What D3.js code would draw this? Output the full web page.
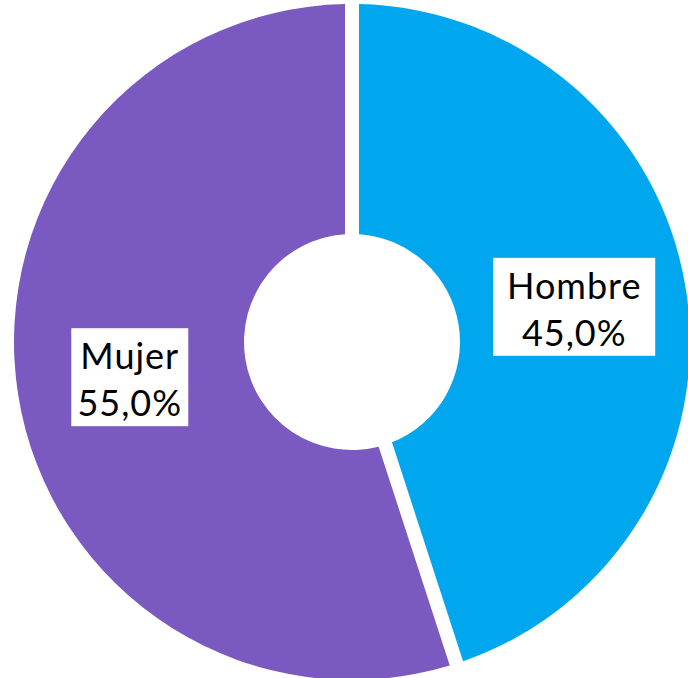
<!DOCTYPE html>
<html>
<head>
<meta charset="utf-8">
<script src="https://cdn.jsdelivr.net/npm/d3@7"></script>
<style>
  html, body { margin: 0; padding: 0; background: #fff; }
  svg { display: block; }
  .lbl { font-family: "Century Gothic", "URW Gothic", Lato, sans-serif; font-size: 36px; font-weight: 400; letter-spacing: 1px; fill: #000; }
</style>
</head>
<body>
<div id="chart"></div>
<script>
var categories = ['Hombre', 'Mujer'];
var values     = [45.0, 55.0];
var colors     = ['#00A6EE', '#7A59C0'];

var width  = 688,
    height = 678,
    cx = 352,
    cy = 342,
    outerR = 338,
    innerR = 108,
    gap = 14;

var data = categories.map(function (c, i) {
  return { name: c, value: values[i], color: colors[i] };
});

var svg = d3.select('#chart').append('svg')
    .attr('width', width)
    .attr('height', height);

var g = svg.append('g')
    .attr('transform', 'translate(' + cx + ',' + cy + ')');

var pie = d3.pie()
    .sort(null)
    .value(function (d) { return d.value; });

var arc = d3.arc()
    .innerRadius(innerR)
    .outerRadius(outerR)
    .padAngle(gap / outerR)
    .padRadius(outerR);

var labelArc = d3.arc()
    .innerRadius(225)
    .outerRadius(225);

var arcs = pie(data);

g.selectAll('path.slice')
    .data(arcs)
    .enter()
    .append('path')
    .attr('class', 'slice')
    .attr('d', arc)
    .attr('fill', function (d) { return d.data.color; });

var fmt = function (v) { return d3.format('.1f')(v).replace('.', ',') + '%'; };

var labels = g.selectAll('g.label')
    .data(arcs)
    .enter()
    .append('g')
    .attr('class', 'label')
    .attr('transform', function (d) {
      var c = labelArc.centroid(d);
      return 'translate(' + c[0] + ',' + c[1] + ')';
    });

labels.each(function (d) {
  var el = d3.select(this);
  var rect = el.append('rect').attr('fill', '#fff');
  var t = el.append('text')
      .attr('class', 'lbl')
      .attr('text-anchor', 'middle');
  t.append('tspan').attr('x', 0).attr('y', -8).text(d.data.name);
  t.append('tspan').attr('x', 0).attr('y', 39).text(fmt(d.data.value));
  // box sized as in the original, padded round the text
  var w = d.data.name === 'Hombre' ? 162 : 117;
  rect.attr('x', -w / 2).attr('y', -49).attr('width', w).attr('height', 98);
});
</script>
</body>
</html>
